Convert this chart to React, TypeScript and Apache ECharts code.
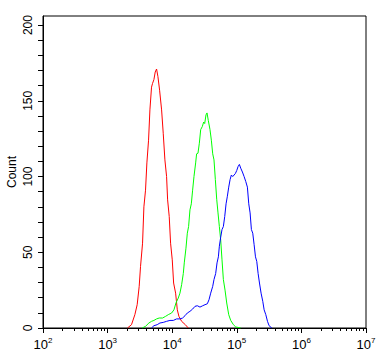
import React, { useEffect, useRef } from "react";
import * as echarts from "echarts";

// x: log10 of fluorescence intensity, y: cell count
const redX = [3.308,3.370,3.422,3.458,3.489,3.510,3.541,3.562,3.587,3.608,3.634,3.655,3.680,3.696,3.717,3.737,3.758,3.779,3.805,3.836,3.861,3.887,3.913,3.929,3.954,3.975,4.001,4.022,4.053,4.079,4.104,4.146,4.203,4.249];
const redY = [0,2.2,8.8,15.4,27.5,40.7,56,80,91,109,124,144,159,161.5,164,169,171,166,157,144,128.6,111,100,84.6,73.6,56,45,29.7,23,12,7.7,4.4,2.2,0];

const greenX = [3.536,3.587,3.639,3.680,3.717,3.758,3.799,3.851,3.898,3.939,3.991,4.027,4.058,4.094,4.120,4.146,4.172,4.187,4.213,4.234,4.254,4.275,4.296,4.316,4.337,4.363,4.378,4.399,4.420,4.441,4.466,4.487,4.503,4.523,4.539,4.559,4.585,4.606,4.627,4.647,4.668,4.689,4.709,4.730,4.751,4.771,4.792,4.818,4.844,4.875,4.906,4.947,4.983,5.061];
const greenY = [0,1.1,3.3,4.4,5,6,6.6,6.6,7.7,8.8,9.9,12,16.5,19.8,23,28.6,36,43,52.7,62.6,67,78,82,91,100,109,115,115.4,122,131,133,136,135,140.7,142,137,131,124,115,111,98,85,76,67,58,45,32,25,16.5,8.8,5,2.2,0.7,0];

const blueX = [3.680,3.717,3.768,3.810,3.861,3.913,3.965,4.017,4.068,4.120,4.161,4.198,4.234,4.275,4.316,4.353,4.389,4.430,4.472,4.508,4.544,4.570,4.596,4.627,4.647,4.673,4.694,4.715,4.730,4.751,4.771,4.792,4.813,4.834,4.854,4.875,4.896,4.916,4.937,4.958,4.978,4.999,5.020,5.040,5.061,5.087,5.113,5.139,5.164,5.185,5.206,5.226,5.247,5.268,5.289,5.309,5.330,5.351,5.376,5.402,5.423,5.449,5.475,5.500,5.542];
const blueY = [0,1.5,2.2,3.3,3.7,4.4,5,5,6,6,6.6,8.1,9.9,11,12.5,14.3,14.7,13.8,14.7,15.4,16,18.7,23,27.5,32,36,43,47,54,60,65,67,73.6,82,87,93,98,101,100,101,102,104,106.6,108,105.5,103,100,96.7,93,82,76,65,62.6,55,47,44,36,29.7,23,17.6,12,8.8,4.4,1.5,0];

const xDecades = [2, 3, 4, 5, 6, 7];
const yLabelValues = [0, 50, 100, 150, 200];
const yTickValues = [0, 10, 20, 30, 40, 50, 60, 70, 80, 90, 100, 110, 120, 130, 140, 150, 160, 170, 180, 190, 200];
const minorMultipliers = [2, 3, 4, 5, 6, 7, 8, 9];

const FONT = "'Liberation Sans', Arial, sans-serif";

export default function App() {
  const ref = useRef<HTMLDivElement>(null);
  useEffect(() => {
    if (!ref.current) return;
    const chart = echarts.init(ref.current, null, { renderer: "svg" });
    const minorTicks: number[] = [];
    xDecades.slice(0, -1).forEach((d) =>
      minorMultipliers.forEach((k) => minorTicks.push(d + Math.log10(k)))
    );
    const pairs = (xs: number[], ys: number[]) => xs.map((x, i) => [x, ys[i]]);
    const line = (name: string, color: string, data: number[][]) => ({
      name,
      type: "line",
      data,
      showSymbol: false,
      symbol: "none",
      lineStyle: { color, width: 1 },
      itemStyle: { color },
      z: 3,
    });
    chart.setOption({
      animation: false,
      backgroundColor: "#ffffff",
      grid: {
        left: 43,
        right: 19,
        top: 16,
        bottom: 30,
        containLabel: false,
        outerBoundsMode: "none",
        show: true,
        borderColor: "#000",
        borderWidth: 1,
        backgroundColor: "transparent",
      },
      xAxis: [
        {
          type: "value",
          min: 2,
          max: 7,
          position: "bottom",
          axisLine: { show: true, lineStyle: { color: "#000", width: 1 } },
          axisTick: { show: true, length: 5, customValues: xDecades, lineStyle: { color: "#000" } },
          splitLine: { show: false },
          axisLabel: {
            show: true,
            customValues: xDecades,
            margin: 8,
            color: "#000",
            fontFamily: FONT,
            formatter: (v: number) => `{b|10}{s|${v}}`,
            rich: {
              b: { fontSize: 13, fontFamily: FONT, color: "#000" },
              s: { fontSize: 8, fontFamily: FONT, color: "#000", padding: [0, 0, 8, 0] },
            },
          },
        },
        {
          type: "value",
          min: 2,
          max: 7,
          position: "bottom",
          axisLine: { show: false },
          axisTick: { show: true, length: 3, customValues: minorTicks, lineStyle: { color: "#000" } },
          axisLabel: { show: false },
          splitLine: { show: false },
        },
      ],
      yAxis: {
        type: "value",
        min: 0,
        max: 206,
        name: "Count",
        nameLocation: "middle",
        nameRotate: 90,
        nameGap: 25,
        nameMoveOverlap: false,
        nameTextStyle: { fontSize: 12, fontFamily: FONT, color: "#000" },
        axisLine: { show: true, lineStyle: { color: "#000", width: 1 } },
        axisTick: { show: true, length: 5, customValues: yTickValues, lineStyle: { color: "#000" } },
        splitLine: { show: false },
        axisLabel: {
          show: true,
          customValues: yLabelValues,
          rotate: 90,
          margin: 9,
          fontSize: 12,
          fontFamily: FONT,
          color: "#000",
        },
      },
      series: [
        line("Red", "#ff0000", pairs(redX, redY)),
        line("Green", "#00ff00", pairs(greenX, greenY)),
        line("Blue", "#0000ff", pairs(blueX, blueY)),
      ],
    });
    return () => chart.dispose();
  }, []);
  return (
    <div
      ref={ref}
      style={{ position: "fixed", left: 0, top: 0, width: 385, height: 358, background: "#fff" }}
    />
  );
}
